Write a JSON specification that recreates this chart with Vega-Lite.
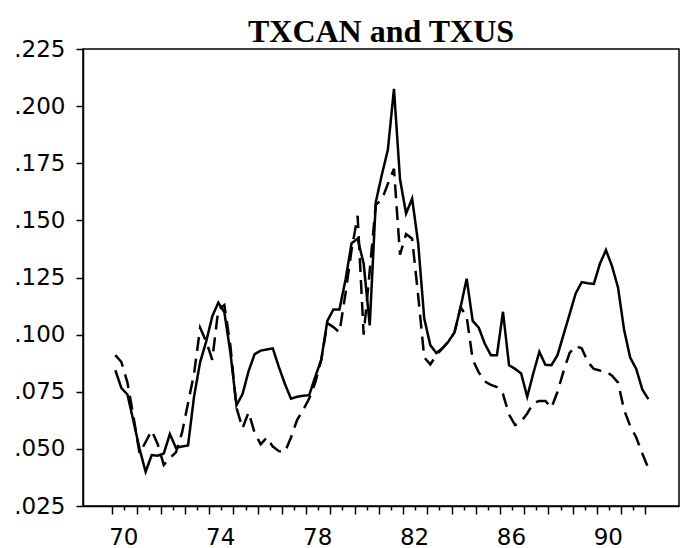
{
  "$schema": "https://vega.github.io/schema/vega-lite/v6.json",
  "width": 596,
  "height": 457,
  "autosize": {"type": "none"},
  "padding": {"left": 83, "top": 49, "right": 1, "bottom": 42},
  "background": "white",
  "title": {"text": "TXCAN and TXUS", "font": "Liberation Serif", "fontSize": 32, "fontWeight": "bold", "color": "black", "anchor": "middle", "offset": 4, "dy": 15},
  "config": {
    "view": {"stroke": "black", "strokeWidth": 1.5},
    "axis": {"grid": false, "title": null, "domainColor": "black", "domainWidth": 1.5, "tickColor": "black", "tickWidth": 1.5, "labelColor": "black", "labelFont": "DejaVu Sans", "labelFontSize": 23, "labelOverlap": false, "labelFlush": false}
  },
  "data": {"values": [
    {"date": 70.125, "TXCAN": 0.0844, "TXUS": 0.091},
    {"date": 70.375, "TXCAN": 0.0766, "TXUS": 0.088},
    {"date": 70.625, "TXCAN": 0.0738, "TXUS": 0.079},
    {"date": 70.875, "TXCAN": 0.062, "TXUS": 0.064},
    {"date": 71.125, "TXCAN": 0.050, "TXUS": 0.048},
    {"date": 71.375, "TXCAN": 0.040, "TXUS": 0.053},
    {"date": 71.625, "TXCAN": 0.0473, "TXUS": 0.058},
    {"date": 71.875, "TXCAN": 0.047, "TXUS": 0.052},
    {"date": 72.125, "TXCAN": 0.048, "TXUS": 0.043},
    {"date": 72.375, "TXCAN": 0.0565, "TXUS": 0.046},
    {"date": 72.625, "TXCAN": 0.0505, "TXUS": 0.0485},
    {"date": 72.875, "TXCAN": 0.051, "TXUS": 0.057},
    {"date": 73.125, "TXCAN": 0.0515, "TXUS": 0.070},
    {"date": 73.375, "TXCAN": 0.073, "TXUS": 0.083},
    {"date": 73.625, "TXCAN": 0.088, "TXUS": 0.103},
    {"date": 73.875, "TXCAN": 0.097, "TXUS": 0.097},
    {"date": 74.125, "TXCAN": 0.108, "TXUS": 0.089},
    {"date": 74.375, "TXCAN": 0.114, "TXUS": 0.111},
    {"date": 74.625, "TXCAN": 0.1098, "TXUS": 0.113},
    {"date": 74.875, "TXCAN": 0.092, "TXUS": 0.095},
    {"date": 75.125, "TXCAN": 0.069, "TXUS": 0.068},
    {"date": 75.375, "TXCAN": 0.074, "TXUS": 0.059},
    {"date": 75.625, "TXCAN": 0.084, "TXUS": 0.066},
    {"date": 75.875, "TXCAN": 0.0915, "TXUS": 0.057},
    {"date": 76.125, "TXCAN": 0.093, "TXUS": 0.052},
    {"date": 76.375, "TXCAN": 0.0935, "TXUS": 0.055},
    {"date": 76.625, "TXCAN": 0.094, "TXUS": 0.051},
    {"date": 76.875, "TXCAN": 0.0858, "TXUS": 0.049},
    {"date": 77.125, "TXCAN": 0.0784, "TXUS": 0.0487},
    {"date": 77.375, "TXCAN": 0.072, "TXUS": 0.055},
    {"date": 77.625, "TXCAN": 0.0728, "TXUS": 0.0626},
    {"date": 77.875, "TXCAN": 0.0732, "TXUS": 0.067},
    {"date": 78.125, "TXCAN": 0.0735, "TXUS": 0.072},
    {"date": 78.375, "TXCAN": 0.0815, "TXUS": 0.079},
    {"date": 78.625, "TXCAN": 0.089, "TXUS": 0.089},
    {"date": 78.875, "TXCAN": 0.106, "TXUS": 0.105},
    {"date": 79.125, "TXCAN": 0.111, "TXUS": 0.1033},
    {"date": 79.375, "TXCAN": 0.111, "TXUS": 0.101},
    {"date": 79.625, "TXCAN": 0.124, "TXUS": 0.118},
    {"date": 79.875, "TXCAN": 0.140, "TXUS": 0.137},
    {"date": 80.125, "TXCAN": 0.142, "TXUS": 0.152},
    {"date": 80.375, "TXCAN": 0.131, "TXUS": 0.100},
    {"date": 80.625, "TXCAN": 0.104, "TXUS": 0.128},
    {"date": 80.875, "TXCAN": 0.158, "TXUS": 0.157},
    {"date": 81.125, "TXCAN": 0.170, "TXUS": 0.159},
    {"date": 81.375, "TXCAN": 0.181, "TXUS": 0.166},
    {"date": 81.625, "TXCAN": 0.2076, "TXUS": 0.1726},
    {"date": 81.875, "TXCAN": 0.168, "TXUS": 0.135},
    {"date": 82.125, "TXCAN": 0.153, "TXUS": 0.144},
    {"date": 82.375, "TXCAN": 0.1595, "TXUS": 0.142},
    {"date": 82.625, "TXCAN": 0.140, "TXUS": 0.117},
    {"date": 82.875, "TXCAN": 0.107, "TXUS": 0.090},
    {"date": 83.125, "TXCAN": 0.0954, "TXUS": 0.087},
    {"date": 83.375, "TXCAN": 0.092, "TXUS": 0.091},
    {"date": 83.625, "TXCAN": 0.094, "TXUS": 0.094},
    {"date": 83.875, "TXCAN": 0.097, "TXUS": 0.097},
    {"date": 84.125, "TXCAN": 0.101, "TXUS": 0.101},
    {"date": 84.375, "TXCAN": 0.112, "TXUS": 0.112},
    {"date": 84.625, "TXCAN": 0.1245, "TXUS": 0.108},
    {"date": 84.875, "TXCAN": 0.106, "TXUS": 0.089},
    {"date": 85.125, "TXCAN": 0.103, "TXUS": 0.0835},
    {"date": 85.375, "TXCAN": 0.096, "TXUS": 0.0795},
    {"date": 85.625, "TXCAN": 0.091, "TXUS": 0.078},
    {"date": 85.875, "TXCAN": 0.091, "TXUS": 0.077},
    {"date": 86.125, "TXCAN": 0.110, "TXUS": 0.074},
    {"date": 86.375, "TXCAN": 0.0866, "TXUS": 0.065},
    {"date": 86.625, "TXCAN": 0.085, "TXUS": 0.0604},
    {"date": 86.875, "TXCAN": 0.083, "TXUS": 0.062},
    {"date": 87.125, "TXCAN": 0.0728, "TXUS": 0.0655},
    {"date": 87.375, "TXCAN": 0.083, "TXUS": 0.070},
    {"date": 87.625, "TXCAN": 0.0925, "TXUS": 0.071},
    {"date": 87.875, "TXCAN": 0.0868, "TXUS": 0.071},
    {"date": 88.125, "TXCAN": 0.0866, "TXUS": 0.068},
    {"date": 88.375, "TXCAN": 0.091, "TXUS": 0.075},
    {"date": 88.625, "TXCAN": 0.100, "TXUS": 0.084},
    {"date": 88.875, "TXCAN": 0.109, "TXUS": 0.092},
    {"date": 89.125, "TXCAN": 0.118, "TXUS": 0.095},
    {"date": 89.375, "TXCAN": 0.123, "TXUS": 0.094},
    {"date": 89.625, "TXCAN": 0.1225, "TXUS": 0.088},
    {"date": 89.875, "TXCAN": 0.1222, "TXUS": 0.085},
    {"date": 90.125, "TXCAN": 0.131, "TXUS": 0.0843},
    {"date": 90.375, "TXCAN": 0.137, "TXUS": 0.084},
    {"date": 90.625, "TXCAN": 0.130, "TXUS": 0.082},
    {"date": 90.875, "TXCAN": 0.1205, "TXUS": 0.079},
    {"date": 91.125, "TXCAN": 0.102, "TXUS": 0.067},
    {"date": 91.375, "TXCAN": 0.090, "TXUS": 0.060},
    {"date": 91.625, "TXCAN": 0.085, "TXUS": 0.055},
    {"date": 91.875, "TXCAN": 0.076, "TXUS": 0.048},
    {"date": 92.125, "TXCAN": 0.0718, "TXUS": 0.0415}
  ]},
  "encoding": {
    "x": {"field": "date", "type": "quantitative",
      "scale": {"domain": [68.79, 93.39], "nice": false, "zero": false},
      "axis": {"values": [70, 70.5, 71, 71.5, 72, 72.5, 73, 73.5, 74, 74.5, 75, 75.5, 76, 76.5, 77, 77.5, 78, 78.5, 79, 79.5, 80, 80.5, 81, 81.5, 82, 82.5, 83, 83.5, 84, 84.5, 85, 85.5, 86, 86.5, 87, 87.5, 88, 88.5, 89, 89.5, 90, 90.5, 91, 91.5, 92],
        "tickSize": {"condition": {"test": "datum.value % 1 == 0", "value": 8}, "value": 4},
        "labelExpr": "datum.value % 4 == 2 ? format(datum.value, 'd') : ''",
        "labelOffset": 11, "labelPadding": 12}
    }
  },
  "layer": [
    {"mark": {"type": "line", "color": "black", "strokeWidth": 2.5},
     "encoding": {"y": {"field": "TXCAN", "type": "quantitative",
       "scale": {"domain": [0.025, 0.225], "nice": false, "zero": false},
       "axis": {"values": [0.025, 0.05, 0.075, 0.1, 0.125, 0.15, 0.175, 0.2, 0.225], "labelExpr": "substring(format(datum.value, '.3f'), 1)", "tickSize": 7, "labelPadding": 11}}}},
    {"mark": {"type": "line", "color": "black", "strokeWidth": 2.5, "strokeDash": [14, 8]},
     "encoding": {"y": {"field": "TXUS", "type": "quantitative"}}}
  ]
}
